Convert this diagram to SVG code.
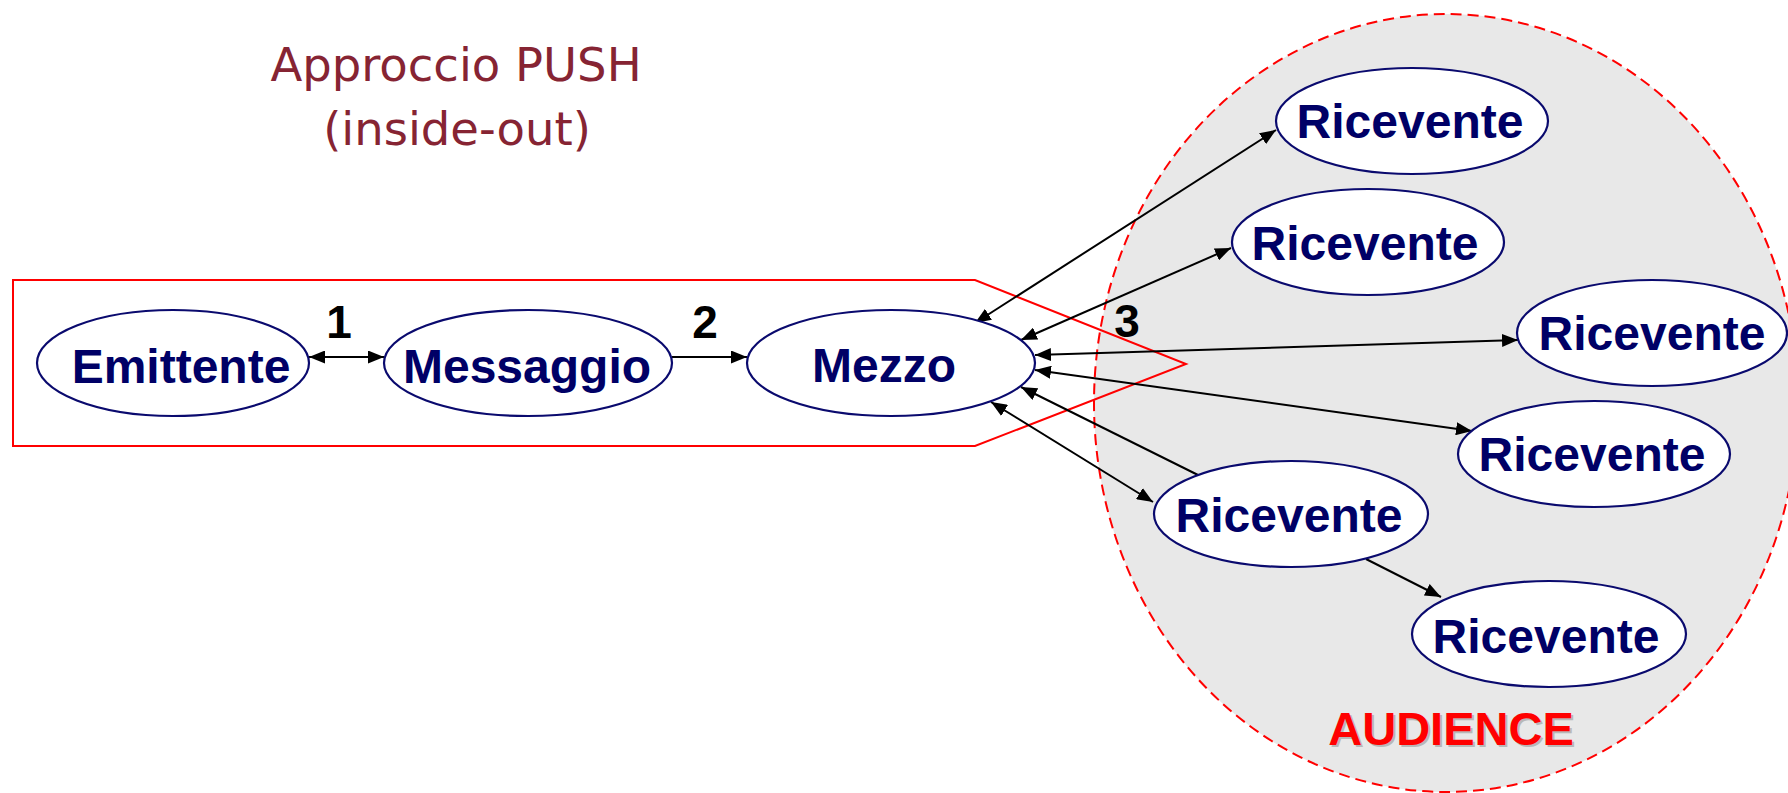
<svg xmlns="http://www.w3.org/2000/svg" width="1788" height="793" viewBox="0 0 1788 793">
  <style>
    .node ellipse { fill: #ffffff; stroke: #0a0a6e; stroke-width: 2.2; }
    .node text { font-family: "Liberation Sans", Arial, sans-serif; font-weight: bold; font-size: 48px; fill: #000066; text-anchor: middle; }
    .title { font-family: "DejaVu Sans", Verdana, sans-serif; font-size: 46.5px; fill: #862433; text-anchor: middle; }
    .num { font-family: "Liberation Sans", Arial, sans-serif; font-weight: bold; font-size: 46px; fill: #000000; text-anchor: middle; }
    .conn line { stroke: #000000; stroke-width: 2; fill: none; }
    .audience { font-family: "Liberation Sans", Arial, sans-serif; font-weight: bold; font-size: 47px; text-anchor: middle; }
  </style>
  <defs>
    <marker id="arrow" viewBox="0 0 16 13" refX="16" refY="6.5" markerWidth="16" markerHeight="13" markerUnits="userSpaceOnUse" orient="auto-start-reverse">
      <path d="M0,0 L16,6.5 L0,13 z" fill="#000000"/>
    </marker>
  </defs>

  <rect width="1788" height="793" fill="#ffffff"/>

  <!-- audience area -->
  <g id="audience">
    <ellipse cx="1446" cy="403" rx="352" ry="389" fill="#e8e8e8" stroke="#ff0000" stroke-width="2" stroke-dasharray="11 6"/>
    <text class="audience" x="1453" y="747" fill="#b8b8b8">AUDIENCE</text>
    <text class="audience" x="1451" y="745" fill="#ff0000">AUDIENCE</text>
  </g>

  <!-- sender-side frame -->
  <g id="frame">
    <polygon points="13,280 975,280 1186,364 975,446 13,446" fill="none" stroke="#ff0000" stroke-width="2"/>
  </g>

  <!-- title -->
  <g id="title">
    <text class="title" x="456" y="81">Approccio PUSH</text>
    <text class="title" x="457" y="145">(inside-out)</text>
  </g>

  <!-- connectors -->
  <g id="connectors" class="conn">
    <line x1="309" y1="357" x2="384" y2="357" marker-start="url(#arrow)" marker-end="url(#arrow)"/>
    <line x1="672" y1="357" x2="747" y2="357" marker-end="url(#arrow)"/>
    <line x1="975" y1="323" x2="1276" y2="130" marker-start="url(#arrow)" marker-end="url(#arrow)"/>
    <line x1="1021" y1="340" x2="1231" y2="248" marker-start="url(#arrow)" marker-end="url(#arrow)"/>
    <line x1="1035" y1="355" x2="1518" y2="340" marker-start="url(#arrow)" marker-end="url(#arrow)"/>
    <line x1="1035" y1="370" x2="1472" y2="431" marker-start="url(#arrow)" marker-end="url(#arrow)"/>
    <line x1="1198" y1="475" x2="1021" y2="387" marker-end="url(#arrow)"/>
    <line x1="991" y1="402" x2="1153" y2="502" marker-start="url(#arrow)" marker-end="url(#arrow)"/>
    <line x1="1366" y1="559" x2="1441" y2="597" marker-end="url(#arrow)"/>
    <text class="num" x="339" y="338">1</text>
    <text class="num" x="705" y="338">2</text>
    <text class="num" x="1127" y="337">3</text>
  </g>

  <!-- nodes -->
  <g id="emittente" class="node">
    <ellipse cx="173" cy="363" rx="136" ry="53"/>
    <text x="181" y="383">Emittente</text>
  </g>
  <g id="messaggio" class="node">
    <ellipse cx="528" cy="363" rx="144" ry="53"/>
    <text x="527" y="383">Messaggio</text>
  </g>
  <g id="mezzo" class="node">
    <ellipse cx="891" cy="363" rx="144" ry="53"/>
    <text x="884" y="382">Mezzo</text>
  </g>
  <g id="ricevente1" class="node">
    <ellipse cx="1412" cy="121" rx="136" ry="53"/>
    <text x="1410" y="138">Ricevente</text>
  </g>
  <g id="ricevente2" class="node">
    <ellipse cx="1368" cy="242" rx="136" ry="53"/>
    <text x="1365" y="260">Ricevente</text>
  </g>
  <g id="ricevente3" class="node">
    <ellipse cx="1652" cy="333" rx="135" ry="53"/>
    <text x="1652" y="350">Ricevente</text>
  </g>
  <g id="ricevente4" class="node">
    <ellipse cx="1594" cy="454" rx="136" ry="53"/>
    <text x="1592" y="471">Ricevente</text>
  </g>
  <g id="ricevente5" class="node">
    <ellipse cx="1291" cy="514" rx="137" ry="53"/>
    <text x="1289" y="532">Ricevente</text>
  </g>
  <g id="ricevente6" class="node">
    <ellipse cx="1549" cy="634" rx="137" ry="53"/>
    <text x="1546" y="653">Ricevente</text>
  </g>
</svg>
